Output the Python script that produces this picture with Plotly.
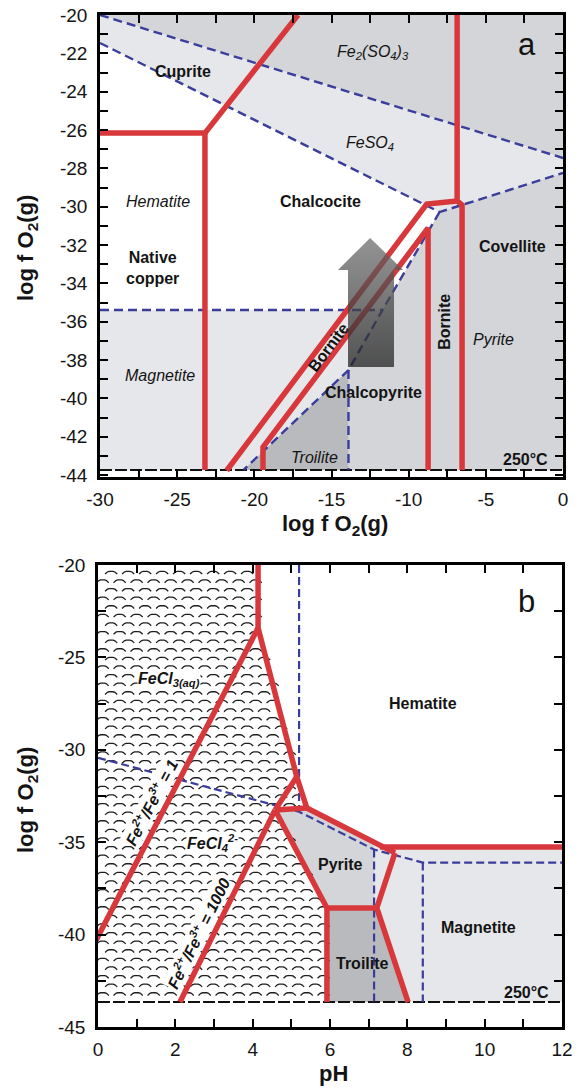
import math
import plotly.graph_objects as go

W, H = 581, 1089
FONT = "Liberation Sans, Arial, Helvetica, sans-serif"
RED = "#d8383b"
BLUE = "#3a3d9c"
INK = "#141414"
GRAY_MID = "#d3d5d8"
GRAY_LIGHT = "#e6e7ea"
GRAY_DARK = "#b8babd"

# ---------------- panel a: stability fields at 250 °C ----------------
A_X_TICKVALS = [-30, -27.5, -25, -22.5, -20, -17.5, -15, -12.5, -10, -7.5, -5, -2.5, 0]
A_X_TICKTEXT = ["-30", "", "-25", "", "-20", "", "-15", "", "-10", "", "-5", "", "0"]
A_Y_TICKVALS = [-44, -43, -42, -41, -40, -39, -38, -37, -36, -35, -34, -33, -32,
                -31, -30, -29, -28, -27, -26, -25, -24, -23, -22, -21, -20]
A_Y_TICKTEXT = ["-44", "", "-42", "", "-40", "", "-38", "", "-36", "", "-34", "", "-32",
                "", "-30", "", "-28", "", "-26", "", "-24", "", "-22", "", "-20"]
A_BASE = -43.73   # lower limit of the calculated fields

# iron-mineral fields (shaded)
A_FE2SO43_X = [-30, 0, 0]
A_FE2SO43_Y = [-20, -20, -27.46]
A_FESO4_X = [-30, 0, 0, -8.0, -30]
A_FESO4_Y = [-20, -27.46, -28.24, -30.28, -21.46]
A_MAGNETITE_X = [-30, -11.7, -13.9, -20.7, -30]
A_MAGNETITE_Y = [-35.39, -35.39, -38.52, -43.73, -43.73]
A_PYRITE_X = [-8.0, 0, 0, -13.9, -13.9, -11.7]
A_PYRITE_Y = [-30.28, -28.24, -43.73, -43.73, -38.52, -35.39]
A_TROILITE_X = [-20.7, -13.9, -13.9]
A_TROILITE_Y = [-43.73, -38.52, -43.73]

# iron-mineral boundaries (dashed)
A_FE_BOUNDS = [
    ([-30, 0], [-20, -27.46]),
    ([-30, -8.0, 0], [-21.46, -30.28, -28.24]),
    ([-8.0, -11.7, -13.9, -20.7], [-30.28, -35.39, -38.52, -43.73]),
    ([-30, -11.7], [-35.39, -35.39]),
    ([-13.9, -13.9], [-38.52, -43.73]),
]

# copper-mineral boundaries (solid red)
A_CU_BOUNDS = [
    ([-30.2, -23.2, -23.2], [-26.16, -26.16, -43.73]),
    ([-23.2, -17.17], [-26.16, -20.0]),
    ([-6.86, -6.86, -6.54, -6.54], [-20.0, -29.70, -29.91, -43.73]),
    ([-6.86, -8.83, -21.79], [-29.70, -29.86, -43.76]),
    ([-19.44, -19.44, -8.74, -8.74], [-43.73, -42.54, -31.11, -43.73]),
]

# evolution arrow
A_ARROW_X = [-13.93, -10.95, -10.95, -10.36, -12.50, -14.58, -13.93, -13.93]
A_ARROW_Y = [-38.36, -38.36, -33.30, -33.30, -31.63, -33.30, -33.30, -38.36]

# ---------------- panel b: iron chloride / iron mineral fields vs pH ----------------
B_X_TICKVALS = [0, 1, 2, 3, 4, 5, 6, 7, 8, 9, 10, 11, 12]
B_X_TICKTEXT = ["0", "", "2", "", "4", "", "6", "", "8", "", "10", "", "12"]
B_Y_TICKVALS = [-45, -42.5, -40, -37.5, -35, -32.5, -30, -27.5, -25, -22.5, -20]
B_Y_TICKTEXT = ["-45", "", "-40", "", "-35", "", "-30", "", "-25", "", "-20"]
B_BASE = -43.65

B_LIGHT_X = [5.40, 7.29, 12, 12, 5.92, 5.92, 4.58]
B_LIGHT_Y = [-33.15, -35.20, -35.26, -43.65, -43.65, -38.56, -33.26]
B_PYRITE_X = [4.58, 5.40, 7.14, 7.14, 5.92]
B_PYRITE_Y = [-33.26, -33.15, -35.00, -38.56, -38.56]
B_TROILITE_X = [5.92, 7.21, 8.02, 5.92]
B_TROILITE_Y = [-38.56, -38.56, -43.65, -43.65]

# aqueous iron-chloride field (scale texture)
B_AQ_X = [0, 4.14, 4.14, 5.14, 5.40, 4.58, 5.92, 5.92, 0]
B_AQ_Y = [-20, -20, -23.41, -31.46, -33.15, -33.26, -38.56, -43.65, -43.65]

B_FE_BOUNDS = [
    ([0, 5.2, 7.14, 8.4, 12], [-30.43, -33.35, -35.4, -36.1, -36.1]),
    ([5.2, 5.2], [-20, -33.35]),
    ([7.14, 7.14], [-35.4, -43.65]),
    ([8.4, 8.4], [-36.1, -43.65]),
]

B_RED_BOUNDS = [
    ([4.14, 4.14, 5.14], [-19.8, -23.41, -31.46]),
    ([-0.05, 4.14], [-40.3, -23.41]),
    ([4.58, 5.14, 5.40, 4.58], [-33.26, -31.46, -33.15, -33.26]),
    ([2.12, 4.58], [-43.65, -33.26]),
    ([4.58, 5.92, 5.92], [-33.26, -38.56, -43.65]),
    ([5.40, 7.68], [-33.15, -35.58]),
    ([7.29, 12.1], [-35.26, -35.26]),
    ([7.68, 7.21, 8.02], [-35.58, -38.56, -43.65]),
    ([5.92, 7.21], [-38.56, -38.56]),
]

# ---------------- layout geometry ----------------
XA_DOM = [100 / W, 563 / W]
YA_DOM = [1 - 477 / H, 1 - 15 / H]
XB_DOM = [98 / W, 562 / W]
YB_DOM = [1 - 1027 / H, 1 - 565 / H]
A_XR, A_YR = [-30, 0], [-44.1, -20]
B_XR, B_YR = [0, 12], [-45, -20]

fig = go.Figure()


def poly(x, y, color, xa, ya):
    fig.add_trace(go.Scatter(x=x + [x[0]], y=y + [y[0]], mode="lines", fill="toself",
                             fillcolor=color, line=dict(width=0), hoverinfo="skip",
                             showlegend=False, xaxis=xa, yaxis=ya))


def path(x, y, color, width, dash, xa, ya):
    fig.add_trace(go.Scatter(x=x, y=y, mode="lines",
                             line=dict(color=color, width=width, dash=dash),
                             hoverinfo="skip", showlegend=False, xaxis=xa, yaxis=ya))


# panel a fills
poly(A_FE2SO43_X, A_FE2SO43_Y, GRAY_MID, "x", "y")
poly(A_FESO4_X, A_FESO4_Y, GRAY_LIGHT, "x", "y")
poly(A_MAGNETITE_X, A_MAGNETITE_Y, GRAY_LIGHT, "x", "y")
poly(A_PYRITE_X, A_PYRITE_Y, GRAY_MID, "x", "y")
poly(A_TROILITE_X, A_TROILITE_Y, GRAY_DARK, "x", "y")

# panel b fills
poly(B_LIGHT_X, B_LIGHT_Y, GRAY_LIGHT, "x2", "y2")
poly(B_PYRITE_X, B_PYRITE_Y, GRAY_MID, "x2", "y2")
poly(B_TROILITE_X, B_TROILITE_Y, GRAY_DARK, "x2", "y2")


# scale texture for the aqueous field in panel b
def inside(px, py, xs, ys):
    hit = False
    n = len(xs)
    j = n - 1
    for i in range(n):
        if (ys[i] > py) != (ys[j] > py):
            xc = xs[i] + (py - ys[i]) * (xs[j] - xs[i]) / (ys[j] - ys[i])
            if px < xc:
                hit = not hit
        j = i
    return hit


sx = (XB_DOM[1] - XB_DOM[0]) * W / (B_XR[1] - B_XR[0])
sy = (YB_DOM[1] - YB_DOM[0]) * H / (B_YR[1] - B_YR[0])
col_w, row_h = 17.0 / sx, 8.6 / sy
rx, ry = 6.4 / sx, 4.2 / sy
angles = [math.pi * (0.1 + 0.8 * k / 8) for k in range(9)]
scale_x, scale_y = [], []
row = 0
yc = B_BASE + 0.4
while yc < -19.9:
    xc = (col_w / 2 if row % 2 else 0.0) + 0.12
    while xc < 6.2:
        if inside(xc, yc, B_AQ_X, B_AQ_Y):
            for t in angles:
                scale_x.append(xc + rx * math.cos(t))
                scale_y.append(yc + ry * math.sin(t) - ry * 0.5)
            scale_x.append(None)
            scale_y.append(None)
        xc += col_w
    yc += row_h
    row += 1
fig.add_trace(go.Scatter(x=scale_x, y=scale_y, mode="lines",
                         line=dict(color="#1e1e1e", width=1.3),
                         hoverinfo="skip", showlegend=False, xaxis="x2", yaxis="y2"))

# lower calculation limit
path([-30, 0], [A_BASE, A_BASE], "#111111", 2, "12px,3px", "x", "y")
path([0, 12], [B_BASE, B_BASE], "#111111", 2, "12px,3px", "x2", "y2")

# dashed iron-mineral boundaries
for bx, by in A_FE_BOUNDS:
    path(bx, by, BLUE, 2.4, "9px,5px", "x", "y")
for bx, by in B_FE_BOUNDS:
    path(bx, by, BLUE, 2.2, "8px,4px", "x2", "y2")

# red boundaries
for bx, by in A_CU_BOUNDS:
    path(bx, by, RED, 5.5, "solid", "x", "y")
for bx, by in B_RED_BOUNDS:
    path(bx, by, RED, 5.5, "solid", "x2", "y2")

# arrow
fig.add_trace(go.Scatter(
    x=A_ARROW_X, y=A_ARROW_Y, mode="lines", fill="toself",
    fillgradient=dict(type="vertical",
                      colorscale=[[0, "rgba(35,35,35,0.75)"], [1, "rgba(105,105,105,0.72)"]],
                      start=A_ARROW_Y[0], stop=A_ARROW_Y[4]),
    line=dict(width=0), hoverinfo="skip", showlegend=False, xaxis="x", yaxis="y"))


def label(text, x, y, xa, ya, size=16, angle=0, xanchor="center", bg=None):
    fig.add_annotation(text=text, x=x, y=y, xref=xa, yref=ya, showarrow=False,
                       textangle=angle, xanchor=xanchor, yanchor="middle",
                       font=dict(family=FONT, size=size, color=INK),
                       bgcolor=bg, borderpad=0)


# panel a labels
label("<b>Cuprite</b>", -24.62, -22.97, "x", "y")
label("<i>Fe<sub>2</sub>(SO<sub>4</sub>)<sub>3</sub></i>", -12.31, -21.93, "x", "y")
label("<i>FeSO<sub>4</sub></i>", -12.5, -26.68, "x", "y")
label("<i>Hematite</i>", -26.24, -29.75, "x", "y")
label("<b>Chalcocite</b>", -15.74, -29.75, "x", "y")
label("<b>Native<br>copper</b>", -28.4, -33.2, "x", "y", xanchor="left")
label("<i>Magnetite</i>", -26.11, -38.78, "x", "y")
label("<b>Covellite</b>", -3.30, -32.1, "x", "y")
label("<b>Bornite</b>", -7.64, -36.0, "x", "y", angle=-90)
label("<i>Pyrite</i>", -4.53, -36.95, "x", "y")
label("<b>Bornite</b>", -15.22, -37.32, "x", "y", angle=-53)
label("<b>Chalcopyrite</b>", -12.31, -39.67, "x", "y")
label("<i>Troilite</i>", -16.07, -43.06, "x", "y")
label("<b>250°C</b>", -2.46, -43.21, "x", "y")
label("a", -2.33, -21.56, "x", "y", size=31)

# panel b labels
label("<b>Hematite</b>", 8.40, -27.47, "x2", "y2")
label("<b><i>FeCl<sub>3(aq)</sub></i></b>", 1.84, -26.22, "x2", "y2", bg="white")
label("<b><i>FeCl<sub>4</sub><sup>2-</sup></i></b>", 2.95, -35.04, "x2", "y2", bg="white")
label("<b><i>Fe<sup>2+</sup>/Fe<sup>3+</sup> = 1</i></b>", 1.36, -32.8, "x2", "y2",
      angle=-62.6, bg="white")
label("<b><i>Fe<sup>2+</sup>/Fe<sup>3+</sup> = 1000</i></b>", 2.58, -39.9, "x2", "y2",
      angle=-63.7, bg="white")
label("<b>Pyrite</b>", 6.26, -36.23, "x2", "y2")
label("<b>Magnetite</b>", 9.83, -39.59, "x2", "y2")
label("<b>Troilite</b>", 6.85, -41.54, "x2", "y2")
label("<b>250°C</b>", 11.09, -43.11, "x2", "y2")
label("b", 11.09, -22.0, "x2", "y2", size=31)

# axis titles
TITLE_FONT = dict(family=FONT, size=22, color=INK)
for text, x, y, ang in [
    ("<b>log f O<sub>2</sub>(g)</b>", 335 / W, 1 - 525 / H, 0),
    ("<b>log f O<sub>2</sub>(g)</b>", 27 / W, 1 - 248 / H, -90),
    ("<b>log f O<sub>2</sub>(g)</b>", 27 / W, 1 - 800 / H, -90),
    ("<b>pH</b>", 333 / W, 1 - 1073 / H, 0),
]:
    fig.add_annotation(text=text, x=x, y=y, xref="paper", yref="paper", showarrow=False,
                       textangle=ang, xanchor="center", yanchor="middle", font=TITLE_FONT)

AXIS_COMMON = dict(showline=True, linecolor="black", linewidth=2.5, mirror="ticks",
                   ticks="inside", ticklen=8, tickwidth=2, tickcolor="black",
                   showgrid=False, zeroline=False, automargin=False, tickmode="array",
                   tickfont=dict(family=FONT, size=19, color=INK), fixedrange=True)

fig.update_layout(
    width=W, height=H, margin=dict(l=0, r=0, t=0, b=0),
    paper_bgcolor="white", plot_bgcolor="white", template="none",
    showlegend=False,
    xaxis=dict(domain=XA_DOM, range=A_XR, anchor="y",
               tickvals=A_X_TICKVALS, ticktext=A_X_TICKTEXT, ticklabelstandoff=3, **AXIS_COMMON),
    yaxis=dict(domain=YA_DOM, range=A_YR, anchor="x",
               tickvals=A_Y_TICKVALS, ticktext=A_Y_TICKTEXT, ticklabelstandoff=6, **AXIS_COMMON),
    xaxis2=dict(domain=XB_DOM, range=B_XR, anchor="y2",
                tickvals=B_X_TICKVALS, ticktext=B_X_TICKTEXT, ticklabelstandoff=3, **AXIS_COMMON),
    yaxis2=dict(domain=YB_DOM, range=B_YR, anchor="x2",
                tickvals=B_Y_TICKVALS, ticktext=B_Y_TICKTEXT, ticklabelstandoff=6, **AXIS_COMMON),
)

fig.write_html("out.html")
